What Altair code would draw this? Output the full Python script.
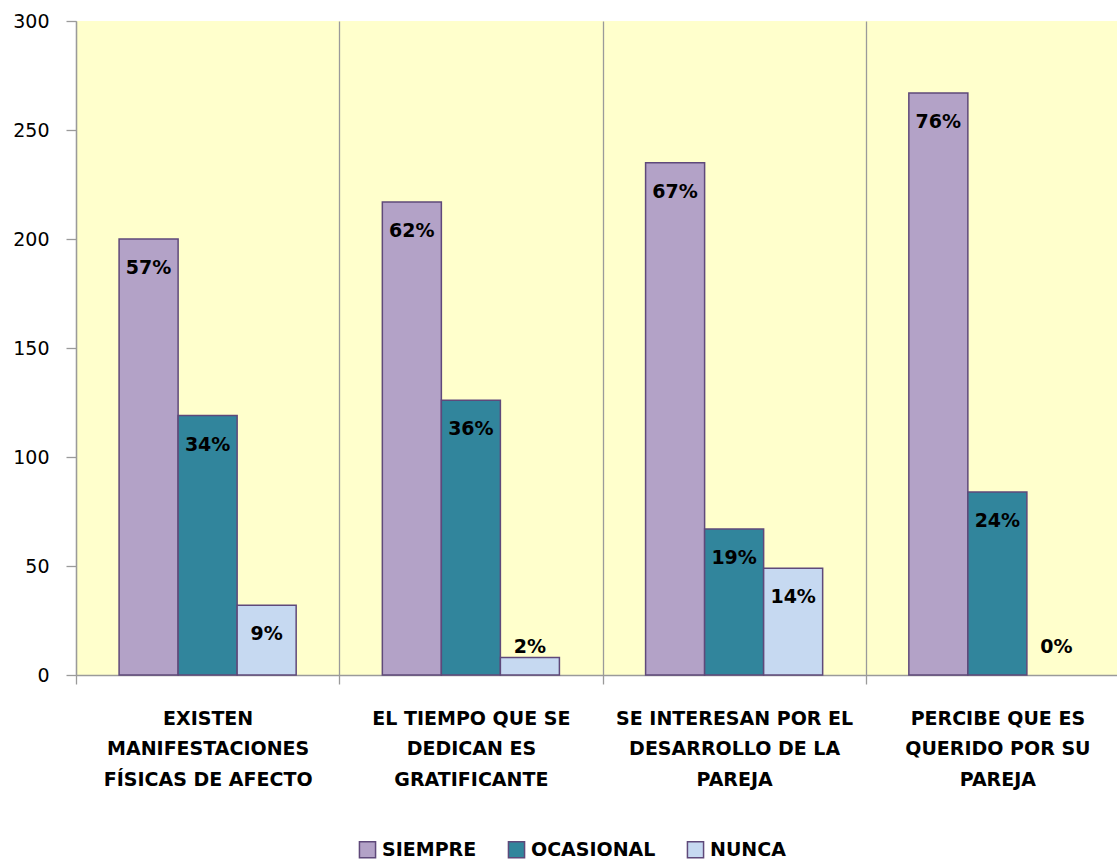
import altair as alt
import pandas as pd

categories = [
    "EXISTEN|MANIFESTACIONES|FÍSICAS DE AFECTO",
    "EL TIEMPO QUE SE|DEDICAN ES|GRATIFICANTE",
    "SE INTERESAN POR EL|DESARROLLO DE LA|PAREJA",
    "PERCIBE QUE ES|QUERIDO POR SU|PAREJA",
]
series = ["SIEMPRE", "OCASIONAL", "NUNCA"]
siempre = [200, 217, 235, 267]
ocasional = [119, 126, 67, 84]
nunca = [32, 8, 49, 0]
pct_siempre = ["57%", "62%", "67%", "76%"]
pct_ocasional = ["34%", "36%", "19%", "24%"]
pct_nunca = ["9%", "2%", "14%", "0%"]
colors = ["#B3A2C7", "#31859C", "#C6D9F1"]

rows = []
for vals, pcts, s in [(siempre, pct_siempre, "SIEMPRE"),
                      (ocasional, pct_ocasional, "OCASIONAL"),
                      (nunca, pct_nunca, "NUNCA")]:
    for c, v, p in zip(categories, vals, pcts):
        rows.append({"cat": c, "serie": s, "value": v, "pct": p})
df = pd.DataFrame(rows)

FONT = "DejaVu Sans"

x = alt.X("cat:N", sort=categories, title=None,
          scale=alt.Scale(paddingInner=0, paddingOuter=0, range=[0, 1053]),
          axis=alt.Axis(labelExpr="split(datum.label, '|')", labelAngle=0,
                        labelFont=FONT, labelFontWeight="bold", labelFontSize=19,
                        labelColor="black", labelLineHeight=30.5, labelPadding=25,
                        labelLimit=400,
                        tickBand="extent", grid=True, gridColor="#9A9A9A",
                        gridWidth=1.3, tickColor="#9A9A9A", tickSize=9,
                        domainColor="#9A9A9A", domainWidth=1.3, tickWidth=1.3))
xo = alt.XOffset("serie:N", sort=series,
                 scale=alt.Scale(paddingOuter=0.73, paddingInner=0))

base = alt.Chart(df)

bars = base.transform_filter("datum.value > 0").mark_bar(
    stroke="#5F497A", strokeWidth=1.5).encode(
    x=x,
    xOffset=xo,
    y=alt.Y("value:Q", title=None,
            scale=alt.Scale(domain=[0, 300]),
            axis=alt.Axis(values=[0, 50, 100, 150, 200, 250, 300], grid=False,
                          labelFont=FONT, labelFontSize=19, labelColor="black",
                          tickColor="#9A9A9A", tickSize=10, tickWidth=1.3,
                          domainColor="#9A9A9A", domainWidth=1.3,
                          labelPadding=17)),
    color=alt.Color("serie:N", sort=series,
                    scale=alt.Scale(domain=series, range=colors),
                    legend=alt.Legend(title=None, orient="none", direction="horizontal",
                                      legendX=282, legendY=819,
                                      symbolType="square", symbolSize=260,
                                      symbolStrokeColor="#5F497A", symbolStrokeWidth=1.5,
                                      labelFont=FONT, labelFontWeight="bold",
                                      labelFontSize=19, labelColor="black",
                                      columnPadding=28, labelOffset=5)),
)

labels = base.transform_calculate(
    ly="max(datum.value, 26)"
).mark_text(font=FONT, fontWeight="bold", fontSize=19, color="black",
            baseline="middle", dy=29).encode(
    x=x,
    xOffset=xo,
    y=alt.Y("ly:Q"),
    text="pct:N",
)

chart = alt.layer(bars, labels).properties(
    width=1041, height=654,
    autosize=alt.AutoSizeParams(type="none"),
    padding={"left": 76, "top": 21, "right": 0, "bottom": 186},
    background="white",
).configure_view(fill="#FFFFCC", stroke=None)

chart.save("out.html", embed_options={"renderer": "svg", "actions": False})
